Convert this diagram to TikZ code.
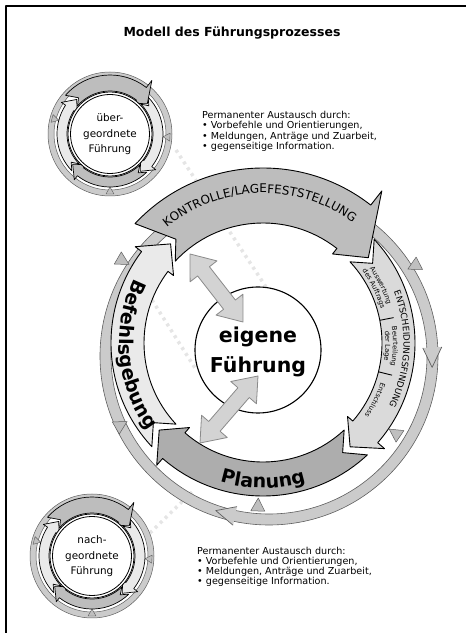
\documentclass[tikz,border=0pt]{standalone}
\usepackage{fontspec}
\setmainfont{DejaVu Sans}
\usetikzlibrary{calc,decorations.text}
\definecolor{kgray}{HTML}{BDBDBD}
\definecolor{pgray}{HTML}{ADADAD}
\definecolor{egray}{HTML}{DADADA}
\definecolor{bgray}{HTML}{EAEAEA}
\definecolor{rgray}{HTML}{CBCBCB}
\definecolor{tgray}{HTML}{BFBFBF}
\definecolor{agray}{HTML}{D3D3D3}
\definecolor{aedge}{HTML}{8A8A8A}
\definecolor{ringedge}{HTML}{5E5E5E}
\tikzset{
 kseg/.style={fill=kgray, draw=black, line width=0.9},
 pseg/.style={fill=pgray, draw=black, line width=0.9},
 eseg/.style={fill=egray, draw=black, line width=0.9},
 bseg/.style={fill=bgray, draw=black, line width=0.9},
 ringline/.style={draw=ringedge, line width=0.6},
 ringhead/.style={fill=rgray, draw=ringedge, line width=0.7},
 tristyle/.style={fill=tgray, draw=ringedge, line width=0.5},
 dbl/.style={fill=agray, draw=aedge, line width=0.8},
 faint/.style={draw=black!10, line width=3.5, dash pattern=on 3pt off 4pt},
 sdark/.style={fill=kgray, draw=black, line width=0.7},
 slight/.style={fill=bgray, draw=black, line width=0.7},
 sringline/.style={draw=ringedge, line width=0.5},
 stri/.style={fill=tgray, draw=ringedge, line width=0.4},
 blocktext/.style={anchor=base west, inner sep=0, font=\fontsize{9.6}{11}\selectfont},
}
\newcommand\segmid{135.5}
% #1 style, #2 r_in, #3 r_out, #4 tail angle, #5 notch angle, #6 barb angle, #7 tip angle, #8 barb r in, #9 barb r out
\newcommand\seg[9]{\path[#1] (#4:#3) arc[start angle=#4, end angle=#6, radius=#3] -- (#6:#9) -- (#7:\segmid) -- (#6:#8) -- (#6:#2) arc[start angle=#6, end angle=#4, radius=#2] -- (#5:\segmid) -- cycle;}
\newcommand\dblarr[2]{%
 \coordinate (h1) at ($(#1)!22pt!(#2)$);
 \coordinate (h2) at ($(#2)!22pt!(#1)$);
 \path[dbl] (#1) -- ($(h1)!17pt!90:(#2)$) -- ($(h1)!7.5pt!90:(#2)$) -- ($(h2)!7.5pt!-90:(#1)$) -- ($(h2)!17pt!-90:(#1)$) -- (#2) -- ($(h2)!17pt!90:(#1)$) -- ($(h2)!7.5pt!90:(#1)$) -- ($(h1)!7.5pt!-90:(#2)$) -- ($(h1)!17pt!-90:(#2)$) -- cycle;}
\newcommand\smallcirc[3]{%
 \begin{scope}[shift={(#1)}]
  \path[fill=rgray, even odd rule] (0,0) circle[radius=62] (0,0) circle[radius=56];
  \draw[sringline] (0,0) circle[radius=62] (0,0) circle[radius=56];
  \foreach \a in {165,-3,-90} \draw[stri, shift={(\a:57)}, rotate=\a+180] (4,0) -- (-3,4) -- (-3,-4) -- cycle;
  \renewcommand\segmid{48}
  \seg{slight}{43}{53}{44}{36}{-38}{-51}{39}{58}
  \seg{sdark}{43}{53}{-46}{-54}{-128}{-141}{39}{58}
  \seg{slight}{43}{53}{224}{216}{147}{134}{39}{58}
  \seg{sdark}{43}{59}{139}{131}{52}{39}{39}{68}
  \draw[line width=0.8, fill=white] (0,0) circle[radius=42];
  \draw[line width=0.8] (0,0) circle[radius=39.5];
  \node[align=center, inner sep=0, font=\fontsize{10.4}{15.5}\selectfont] (#2) at (0,-0.5) {#3};
 \end{scope}}

\begin{document}
\begin{tikzpicture}[x=1pt,y=1pt,line join=round]
\useasboundingbox (0,0) rectangle (466,633);
\coordinate (C) at (263,290);
\coordinate (O) at (269,277);
\coordinate (S1) at (110,499);
\coordinate (S2) at (92,77);

% frame
\draw[line width=2.6] (6,0) -- (6,627) -- (466,627);

% faint exchange traces
\draw[faint] (176,483) -- (268,343);
\draw[faint] (152,333) -- (195,265);
\draw[faint] (150,100) -- (192,141);

% outer ring of the main cycle
\begin{scope}[shift={(O)}]
 \path[fill=rgray, even odd rule] (0,0) circle[radius=169] (0,0) circle[radius=158];
 \draw[ringline] (0,0) circle[radius=169] (0,0) circle[radius=158];
 \path[ringhead] (3:173) -- (-4:163.5) -- (3:154);
 \path[ringhead] (-102:173) -- (-109:163.5) -- (-102:154);
\end{scope}
\foreach \px/\py/\rot in {123/372/-30, 121/208/30, 258/128/88, 414/367/207, 395/200/146}
 \draw[tristyle, shift={(\px,\py)}, rotate=\rot] (7,0) -- (-6,7) -- (-6,-7) -- cycle;

% main cycle
\begin{scope}[shift={(C)}]
 \seg{bseg}{119}{152}{223}{216}{143}{133}{112}{160}
 \seg{pseg}{119}{153}{-47}{-54}{-131}{-140}{112}{162}
 \seg{eseg}{119}{152}{43}{36}{-41}{-50}{112}{161}
 \seg{kseg}{120}{175}{137}{130}{52}{39}{113}{193}
 \draw[line width=0.9] (11:119) -- (11:133);
 \draw[line width=0.9] (-14:119) -- (-14:133);
 \path[decorate, decoration={text along path, text align=center, text={|\fontsize{12}{14}\selectfont|KONTROLLE/LAGEFESTSTELLUNG}}] (141.5:150) arc[start angle=141.5, end angle=41.5, radius=150];
 \path[decorate, decoration={text along path, text align=center, text={|\fontsize{8.8}{10}\selectfont|ENTSCHEIDUNGSFINDUNG}}] (30:140.5) arc[start angle=30, end angle=-35, radius=140.5];
 \path[decorate, decoration={text along path, text align=center, text={|\fontsize{6.8}{8}\selectfont|Auswertung}}] (46:130) arc[start angle=46, end angle=6, radius=130];
 \path[decorate, decoration={text along path, text align=center, text={|\fontsize{6.8}{8}\selectfont|des Auftrags}}] (46:122.5) arc[start angle=46, end angle=6, radius=122.5];
 \path[decorate, decoration={text along path, text align=center, text={|\fontsize{6.8}{8}\selectfont|Beurteilung}}] (18.5:130) arc[start angle=18.5, end angle=-21.5, radius=130];
 \path[decorate, decoration={text along path, text align=center, text={|\fontsize{6.8}{8}\selectfont|der Lage}}] (18.5:122.5) arc[start angle=18.5, end angle=-21.5, radius=122.5];
 \path[decorate, decoration={text along path, text align=center, text={|\fontsize{6.8}{8}\selectfont|Entschluss}}] (-7:124.5) arc[start angle=-7, end angle=-47, radius=124.5];
 \path[decorate, decoration={text along path, text align=center, text={|\fontsize{19}{22}\selectfont\bfseries|Planung}}] (-135:145) arc[start angle=-135, end angle=-45, radius=145];
 \path[decorate, decoration={text along path, text align=center, text={|\fontsize{19}{22}\selectfont\bfseries|Befehlsgebung}}] (150.3:144) arc[start angle=150.3, end angle=220.3, radius=144];
\end{scope}

% own command
\node[circle, draw, fill=white, line width=1.1, minimum size=126, inner sep=0] (ecirc) at (258,283) {};
\node[align=center, inner sep=0, font=\fontsize{20.5}{30}\selectfont\bfseries] (etext) at (258,281.5) {eigene\\Führung};
\coordinate (a1) at (190,379);
\coordinate (b1) at (243,311);
\coordinate (a2) at (200,190);
\coordinate (b2) at (258,257);
\dblarr{a1}{b1}
\dblarr{a2}{b2}

% superior and subordinate command
\smallcirc{S1}{t1}{über-\\geordnete\\Führung}
\smallcirc{S2}{t2}{nach-\\geordnete\\Führung}

% title and texts
\node[anchor=base, inner sep=0, font=\fontsize{12.5}{15}\selectfont\bfseries] (title) at (232,596.5) {Modell des Führungsprozesses};
\node[blocktext] (pa1) at (202,514.5) {Permanenter Austausch durch:};
\node[blocktext] (pa2) at (202,504) {• Vorbefehle und Orientierungen,};
\node[blocktext] (pa3) at (202,493.5) {• Meldungen, Anträge und Zuarbeit,};
\node[blocktext] (pa4) at (202,483) {• gegenseitige Information.};
\node[blocktext] (pb1) at (197,78.5) {Permanenter Austausch durch:};
\node[blocktext] (pb2) at (197,68.5) {• Vorbefehle und Orientierungen,};
\node[blocktext] (pb3) at (197,58.5) {• Meldungen, Anträge und Zuarbeit,};
\node[blocktext] (pb4) at (197,48.5) {• gegenseitige Information.};
\end{tikzpicture}
\end{document}
